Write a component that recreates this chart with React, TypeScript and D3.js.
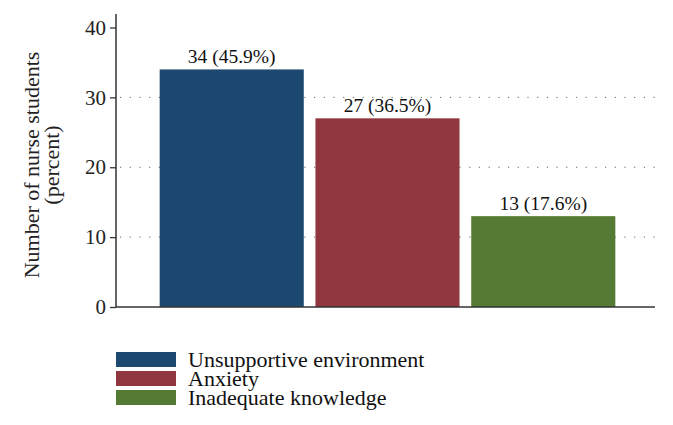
import React, { useRef, useEffect } from 'react';
import * as d3 from 'd3';

const categories = ['Unsupportive environment', 'Anxiety', 'Inadequate knowledge'];
const counts = [34, 27, 13];
const percents = ['45.9%', '36.5%', '17.6%'];
const colors = ['#1d4970', '#90363f', '#557a33'];
const yTicks = [0, 10, 20, 30, 40];

export default function App() {
  const ref = useRef<SVGSVGElement>(null);

  useEffect(() => {
    if (!ref.current) return;
    const svg = d3.select(ref.current);
    svg.selectAll('*').remove();
    const font = '"Liberation Serif", "DejaVu Serif", serif';

    const left = 116;
    const right = 655;
    const bottom = 307;

    const y = d3.scaleLinear().domain([0, 40]).range([bottom, 27.5]);
    const x = d3.scaleBand<string>()
      .domain(categories)
      .range([155, 620])
      .paddingInner(0.075)
      .paddingOuter(0.03);

    // dotted grid lines
    svg.append('g')
      .selectAll('line')
      .data(yTicks.filter(t => t > 0 && t < 40))
      .enter().append('line')
      .attr('x1', left + 4)
      .attr('x2', right)
      .attr('y1', d => y(d))
      .attr('y2', d => y(d))
      .attr('stroke', '#666')
      .attr('stroke-width', 1)
      .attr('stroke-dasharray', '1.2,8.5');

    svg.append('g')
      .selectAll('rect')
      .data(counts)
      .enter().append('rect')
      .attr('x', (_, i) => x(categories[i])!)
      .attr('y', d => y(d))
      .attr('width', x.bandwidth())
      .attr('height', d => bottom - y(d))
      .attr('fill', (_, i) => colors[i]);

    svg.append('g')
      .selectAll('text')
      .data(counts)
      .enter().append('text')
      .attr('x', (_, i) => x(categories[i])! + x.bandwidth() / 2)
      .attr('y', d => y(d) - 6)
      .attr('text-anchor', 'middle')
      .style('font-family', font)
      .style('font-size', '19.5px')
      .attr('fill', '#111')
      .text((d, i) => `${d} (${percents[i]})`);

    // y axis
    const yAxis = d3.axisLeft(y).tickValues(yTicks).tickSize(6).tickPadding(4);
    const g = svg.append('g')
      .attr('transform', `translate(${left},0)`)
      .call(yAxis);
    g.select('.domain').remove();
    g.selectAll('text')
      .style('font-family', font)
      .style('font-size', '21px')
      .attr('fill', '#222');
    g.selectAll('line').attr('stroke', '#333').attr('stroke-width', 1.3);

    svg.append('line')
      .attr('x1', left).attr('x2', left)
      .attr('y1', 14).attr('y2', bottom)
      .attr('stroke', '#333').attr('stroke-width', 1.5);
    svg.append('line')
      .attr('x1', left).attr('x2', right)
      .attr('y1', bottom).attr('y2', bottom)
      .attr('stroke', '#333').attr('stroke-width', 1.5);

    const label = svg.append('text')
      .attr('transform', `translate(39,165) rotate(-90)`)
      .attr('text-anchor', 'middle')
      .style('font-family', font)
      .style('font-size', '22px')
      .attr('fill', '#222');
    label.append('tspan').attr('x', 0).attr('dy', '0').text('Number of nurse students');
    label.append('tspan').attr('x', 0).attr('dy', '0.9em').text('(percent)');

    // legend
    const legend = svg.append('g').attr('transform', 'translate(116,352)');
    const items = legend.selectAll('g')
      .data(categories)
      .enter().append('g')
      .attr('transform', (_, i) => `translate(0,${i * 19})`);
    items.append('rect')
      .attr('width', 60).attr('height', 15)
      .attr('fill', (_, i) => colors[i]);
    items.append('text')
      .attr('x', 72).attr('y', 15)
      .style('font-family', font)
      .style('font-size', '22px')
      .attr('fill', '#111')
      .text(d => d);
  }, []);

  return <svg ref={ref} width={673} height={425} style={{ display: 'block', margin: '-8px' }} />;
}
